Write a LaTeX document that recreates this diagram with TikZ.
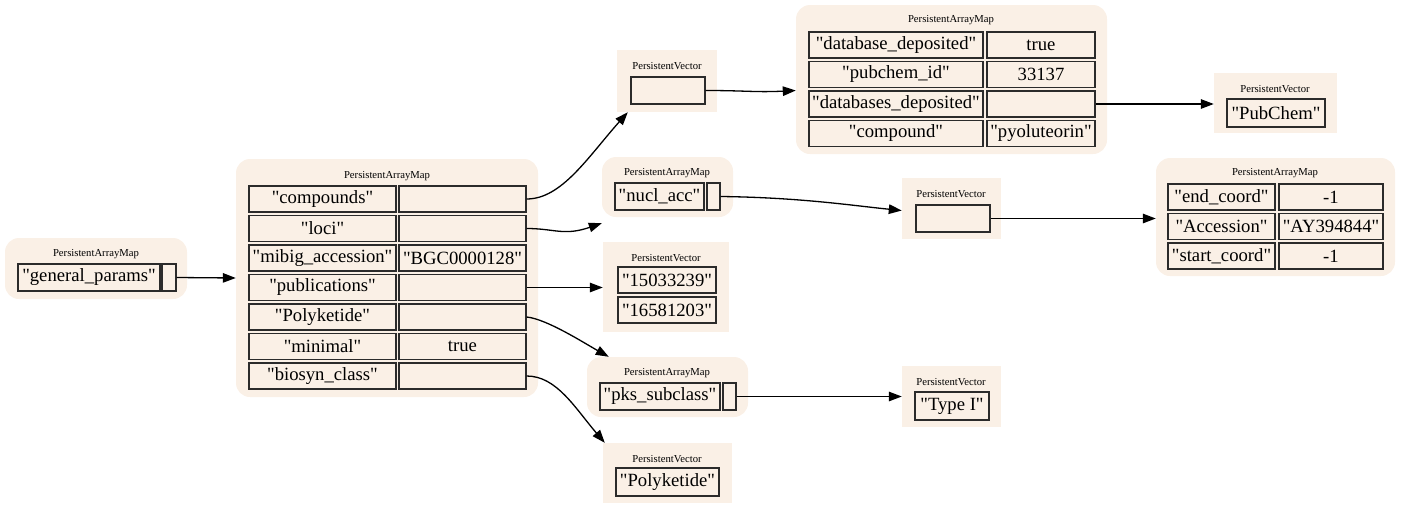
\documentclass[tikz,border=0pt]{standalone}
\usepackage{fontspec}
\setmainfont{Liberation Serif}
\newfontfamily\cellfont{Liberation Serif}[Ligatures=ResetAll]
\usetikzlibrary{arrows.meta}
\definecolor{bgc}{HTML}{FAF0E6}
\definecolor{cellline}{HTML}{2B2B2B}
\tikzset{
  cell/.style={draw=cellline, line width=1.3pt, fill=bgc, inner sep=0pt,
    font=\cellfont\fontsize{18.67}{20}\selectfont},
  mapbg/.style={fill=bgc, rounded corners=14pt, inner sep=0pt},
  vecbg/.style={fill=bgc, inner sep=0pt},
  ttl/.style={font=\fontsize{10.67}{12}\selectfont, inner sep=0pt},
  edge/.style={line width=1.3pt, -{Triangle[length=13pt,width=9.5pt]}},
}
\newcommand\bx[7]{\node[#1, minimum width={(#5-#3)*1pt}, minimum height={(#6-#4)*1pt}] (#2) at ({(#3+#5)/2},{(#4+#6)/2}) {#7};}
\begin{document}
\begin{tikzpicture}[x=1pt,y=-1pt]
\useasboundingbox (0,0) rectangle (1401,509);
% ---------- A: general_params map
\bx{mapbg}{A}{5}{238}{187}{299}{}
\node[ttl] (At) at (96,254) {PersistentArrayMap};
\bx{cell}{Ak}{18}{264}{160}{291}{"general\_params"}
\bx{cell}{Av}{162}{264}{176}{291}{}
% ---------- B: main map
\bx{mapbg}{B}{236}{159}{538}{397}{}
\node[ttl] (Bt) at (387,176) {PersistentArrayMap};
\bx{cell}{Bk1}{249}{186}{396}{212}{"compounds"}
\bx{cell}{Bv1}{399}{186}{526}{212}{}
\bx{cell}{Bk2}{249}{215.5}{396}{241.5}{"loci"}
\bx{cell}{Bv2}{399}{215.5}{526}{241.5}{}
\bx{cell}{Bk3}{249}{245}{396}{271}{"mibig\_accession"}
\bx{cell}{Bv3}{399}{245}{526}{271}{"BGC0000128"}
\bx{cell}{Bk4}{249}{274.5}{396}{300.5}{"publications"}
\bx{cell}{Bv4}{399}{274.5}{526}{300.5}{}
\bx{cell}{Bk5}{249}{304}{396}{330}{"Polyketide"}
\bx{cell}{Bv5}{399}{304}{526}{330}{}
\bx{cell}{Bk6}{249}{333.5}{396}{359.5}{"minimal"}
\bx{cell}{Bv6}{399}{333.5}{526}{359.5}{true}
\bx{cell}{Bk7}{249}{363}{396}{389}{"biosyn\_class"}
\bx{cell}{Bv7}{399}{363}{526}{389}{}
% ---------- PV1: compounds vector
\bx{vecbg}{P1}{617}{50}{717}{112}{}
\node[ttl] (P1t) at (667,66) {PersistentVector};
\bx{cell}{P1c}{631}{77}{705}{104}{}
% ---------- C: compound map
\bx{mapbg}{C}{796}{5}{1107}{154}{}
\node[ttl] (Ct) at (951,20) {PersistentArrayMap};
\bx{cell}{Ck1}{809}{32}{983}{58}{"database\_deposited"}
\bx{cell}{Cv1}{987}{32}{1095}{58}{true}
\bx{cell}{Ck2}{809}{61.5}{983}{87.5}{"pubchem\_id"}
\bx{cell}{Cv2}{987}{61.5}{1095}{87.5}{33137}
\bx{cell}{Ck3}{809}{91}{983}{117}{"databases\_deposited"}
\bx{cell}{Cv3}{987}{91}{1095}{117}{}
\bx{cell}{Ck4}{809}{120.5}{983}{146.5}{"compound"}
\bx{cell}{Cv4}{987}{120.5}{1095}{146.5}{"pyoluteorin"}
% ---------- PV3: PubChem
\bx{vecbg}{P3}{1214}{73}{1337}{133}{}
\node[ttl] (P3t) at (1275,89) {PersistentVector};
\bx{cell}{P3c}{1227}{99}{1325}{127}{"PubChem"}
% ---------- D: nucl_acc map
\bx{mapbg}{D}{602}{157}{733}{217}{}
\node[ttl] (Dt) at (667,173) {PersistentArrayMap};
\bx{cell}{Dk}{615}{183}{704}{210}{"nucl\_acc"}
\bx{cell}{Dv}{707}{183}{720}{210}{}
% ---------- PV2: loci inner vector
\bx{vecbg}{P2}{902}{178}{1001}{239}{}
\node[ttl] (P2t) at (951,194) {PersistentVector};
\bx{cell}{P2c}{916}{205}{990}{232}{}
% ---------- E: accession map
\bx{mapbg}{E}{1156}{158}{1395}{276}{}
\node[ttl] (Et) at (1275,173) {PersistentArrayMap};
\bx{cell}{Ek1}{1168}{184}{1275}{210}{"end\_coord"}
\bx{cell}{Ev1}{1279}{184}{1383}{210}{-1}
\bx{cell}{Ek2}{1168}{213.5}{1275}{239.5}{"Accession"}
\bx{cell}{Ev2}{1279}{213.5}{1383}{239.5}{"AY394844"}
\bx{cell}{Ek3}{1168}{243}{1275}{269}{"start\_coord"}
\bx{cell}{Ev3}{1279}{243}{1383}{269}{-1}
% ---------- PV4: publications
\bx{vecbg}{P4}{603}{242}{729}{332}{}
\node[ttl] (P4t) at (666,258) {PersistentVector};
\bx{cell}{P4a}{618}{267}{716}{293}{"15033239"}
\bx{cell}{P4b}{618}{297}{716}{323}{"16581203"}
% ---------- F: pks_subclass map
\bx{mapbg}{F}{587}{357}{748}{417}{}
\node[ttl] (Ft) at (667,373) {PersistentArrayMap};
\bx{cell}{Fk}{600}{383}{720}{410}{"pks\_subclass"}
\bx{cell}{Fv}{723}{383}{736}{410}{}
% ---------- PV5: Type I
\bx{vecbg}{P5}{902}{366}{1001}{427}{}
\node[ttl] (P5t) at (951,382) {PersistentVector};
\bx{cell}{P5c}{915}{392}{989}{420}{"Type I"}
% ---------- PV6: Polyketide
\bx{vecbg}{P6}{603}{443}{732}{503}{}
\node[ttl] (P6t) at (667,459) {PersistentVector};
\bx{cell}{P6c}{616}{468}{719}{496}{"Polyketide"}
% ---------- edges
\draw[edge] (Av.east) -- (B.west);
\draw[edge] (Bv1.east) .. controls +(35,0) and +(-40,45) .. ([xshift=11pt]P1.south west);
\draw[edge] (Bv2.east) .. controls +(28,0) and +(-38,13) .. ([yshift=-6pt]D.south west);
\draw[edge] (Bv4.east) -- (P4.west |- Bv4.east);
\draw[edge] (Bv5.east) .. controls +(20,2) and +(-25,-14) .. ([xshift=22pt]F.north west);
\draw[edge] (Bv7.east) .. controls +(30,0) and +(-30,-35) .. ([xshift=2pt]P6.north west);
\draw[edge] (P1c.east) .. controls +(40,0) and +(-40,2) .. (C.west |- P1c.east);
\draw[edge] (Cv3.east) -- (P3.west |- Cv3.east);
\draw[edge] (Dv.east) .. controls +(80,1) and +(-50,-5) .. ([yshift=-2pt]P2.west);
\draw[edge] (P2c.east) -- (E.west |- P2c.east);
\draw[edge] (Fv.east) -- (P5.west |- Fv.east);
\end{tikzpicture}
\end{document}
